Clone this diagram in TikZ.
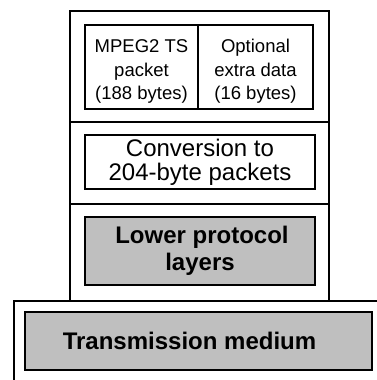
\documentclass[tikz,border=0pt]{standalone}
\usepackage{fontspec}
\setmainfont{Liberation Sans}
\begin{document}
\begin{tikzpicture}[x=1pt,y=-1pt,
  line width=1.8pt,
  frame/.style={draw=black, inner sep=0pt, outer sep=0pt, anchor=north west},
  cell/.style={draw=black, fill=white, inner sep=0pt, outer sep=0pt, anchor=north west, align=center},
  shaded/.style={cell, fill=black!25},
  small/.style={font=\fontsize{18.5}{23.5}\selectfont},
  large/.style={font=\fontsize{24}{24}\selectfont},
  heavy/.style={font=\fontsize{24}{27}\selectfont\bfseries}]
\useasboundingbox (0,0) rectangle (377,380);

% stacked protocol layers
\node[frame, minimum width=259pt, minimum height=111pt] (layerA) at (70,11) {};
\node[frame, minimum width=259pt, minimum height=82pt]  (layerB) at (70,122) {};
\node[frame, minimum width=259pt, minimum height=97pt]  (layerC) at (70,204) {};

% packet contents
\node[cell, small, minimum width=113pt, minimum height=84pt] (ts) at (85,25)
  {\rule{0pt}{22pt}MPEG2 TS\\packet\\(188 bytes)};
\node[cell, small, minimum width=115pt, minimum height=84pt] (extra) at (198,25)
  {\rule{0pt}{22pt}Optional\\extra data\\(16 bytes)};

% conversion step
\node[cell, large, minimum width=230pt, minimum height=54pt] (conv) at (85,135)
  {Conversion to\\204-byte packets};

% lower layers
\node[shaded, heavy, minimum width=230pt, minimum height=68pt] (lower) at (85,217)
  {\hspace*{4pt}Lower protocol\\layers};

% transmission medium, open frame
\coordinate (mediumTL) at (14,301);
\coordinate (mediumBL) at (14,380);
\coordinate (mediumTR) at (377,301);
\draw (mediumBL) -- (mediumTL) -- (mediumTR);
\node[shaded, heavy, minimum width=347pt, minimum height=58pt] (medium) at (25,312)
  {Transmission medium\hspace*{18pt}};
\end{tikzpicture}
\end{document}
